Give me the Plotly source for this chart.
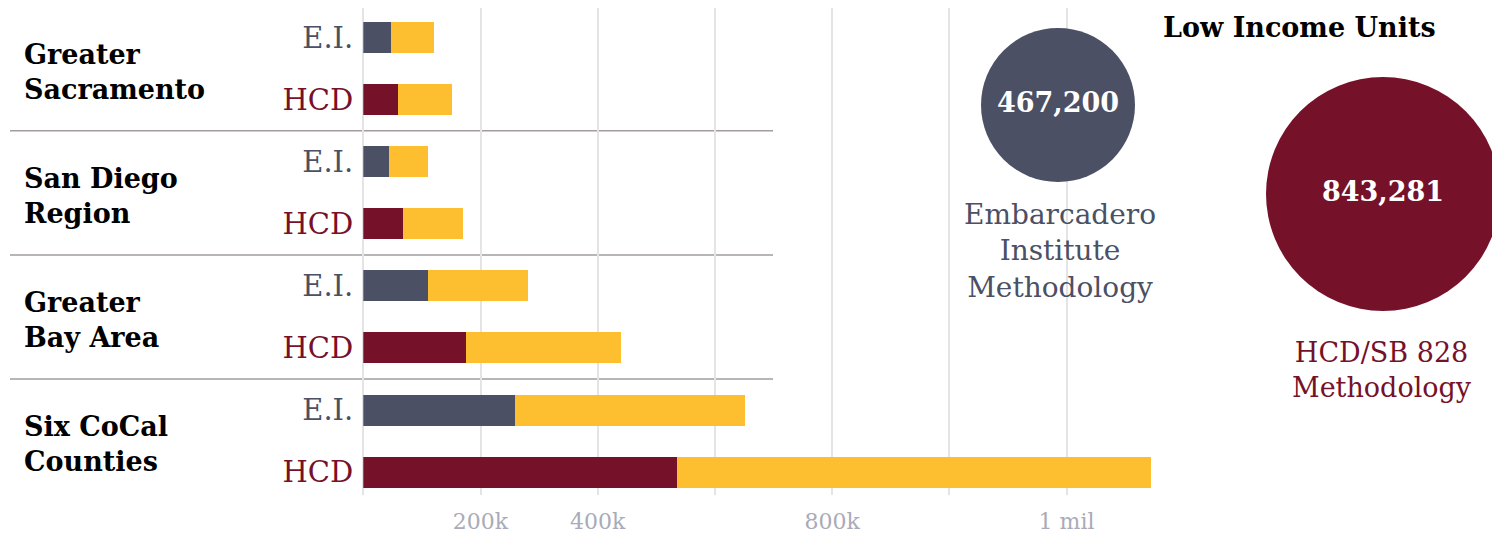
import plotly.graph_objects as go

# ---------------- data ----------------
regions = ["Greater<br>Sacramento", "San Diego<br>Region", "Greater<br>Bay Area", "Six CoCal<br>Counties"]
methods = ["E.I.", "HCD"]
# low income units (dark segment) and total units (end of yellow) per region, E.I. then HCD
ei_low = [47800, 43900, 111600, 259400]
ei_total = [121200, 110400, 282200, 651900]
hcd_low = [60400, 68300, 176500, 535800]
hcd_total = [152600, 170700, 441000, 1344000]
x_tickvals = [0, 200000, 400000, 600000, 800000, 1000000, 1200000]
x_ticktext = ["", "200k", "400k", "", "800k", "", "1 mil"]
bubble_values = [467200, 843281]
bubble_labels = ["Embarcadero<br>Institute<br>Methodology", "HCD/SB 828<br>Methodology"]
title_text = "Low Income Units"

# ---------------- styles ----------------
W, H = 1492, 534
GRAY = "#4b5064"
MAROON = "#76112a"
YELLOW = "#fdbe30"
FONT = "DejaVu Serif"

low_vals, other_vals, low_cols, ypos, ylabels = [], [], [], [], []
for i in range(len(regions)):
    for j, m in enumerate(methods):
        low = ei_low[i] if j == 0 else hcd_low[i]
        tot = ei_total[i] if j == 0 else hcd_total[i]
        low_vals.append(low)
        other_vals.append(tot - low)
        low_cols.append(GRAY if j == 0 else MAROON)
        ypos.append(2 * i + j)
        col = GRAY if j == 0 else MAROON
        ylabels.append(f'<span style="color:{col}">{m}</span>')

fig = go.Figure()
fig.add_trace(go.Bar(x=low_vals, y=ypos, orientation="h", width=0.5,
                     marker=dict(color=low_cols, line=dict(width=0)),
                     showlegend=False, hoverinfo="x"))
fig.add_trace(go.Bar(x=other_vals, y=ypos, orientation="h", width=0.5,
                     marker=dict(color=YELLOW, line=dict(width=0)),
                     showlegend=False, hoverinfo="x"))

# bubbles on a pixel-coordinate overlay
bx = [1058, 1383]
by = [105, 194]
bsize = [154, 234]
fig.add_trace(go.Scatter(x=bx, y=by, xaxis="x2", yaxis="y2", mode="markers+text",
                         marker=dict(size=bsize, color=[GRAY, MAROON], line=dict(width=0), opacity=1),
                         text=[f"{v:,}" for v in bubble_values],
                         textposition="middle center",
                         textfont=dict(family=FONT, size=27, color="white", weight="bold"),
                         cliponaxis=False, showlegend=False, hoverinfo="skip"))

x0_px, x1_px = 363.3, 1160
px_per_unit = 117.2 / 200000
y_top_px, y_bot_px = 8, 495
yr = [7.37, -0.48]

fig.update_layout(
    width=W, height=H,
    margin=dict(l=0, r=0, t=0, b=0),
    paper_bgcolor="white", plot_bgcolor="rgba(0,0,0,0)",
    barmode="stack", bargap=0,
    font=dict(family=FONT),
    xaxis=dict(domain=[x0_px / W, x1_px / W], range=[0, (x1_px - x0_px) / px_per_unit],
               tickvals=x_tickvals, ticktext=x_ticktext,
               showgrid=True, gridcolor="#e4e4e6", gridwidth=1.5,
               zeroline=True, zerolinecolor="#e4e4e6", zerolinewidth=1.5,
               showline=False, ticks="", ticklabelstandoff=11,
               tickfont=dict(family=FONT, size=22, color="#a9abb8"),
               automargin=False, fixedrange=True),
    yaxis=dict(domain=[1 - y_bot_px / H, 1 - y_top_px / H], range=yr,
               tickvals=ypos, ticktext=ylabels, showgrid=False, zeroline=False,
               showline=False, ticks="", ticklabelstandoff=9,
               tickfont=dict(family=FONT, size=29),
               automargin=False, fixedrange=True),
    xaxis2=dict(domain=[0, 1], range=[0, W], visible=False, anchor="y2", fixedrange=True),
    yaxis2=dict(domain=[0, 1], range=[H, 0], visible=False, anchor="x2", fixedrange=True),
)

# region labels and separators
for i, r in enumerate(regions):
    fig.add_annotation(text=r, xref="paper", yref="y", x=22 / W, y=2 * i + 0.5,
                       xanchor="left", yanchor="middle", yshift=-3, align="left",
                       showarrow=False, font=dict(family=FONT, size=27, color="black", weight="bold"))
for k in range(1, len(regions)):
    yv = 2 * k - 0.5
    yp = (yr[0] - yv) / (yr[0] - yr[1]) * (1 - y_top_px / H - (1 - y_bot_px / H)) + (1 - y_bot_px / H)
    fig.add_shape(type="line", xref="paper", yref="paper", x0=10 / W, x1=773 / W, y0=yp, y1=yp,
                  line=dict(color="#a39c9c", width=1.5), layer="below")

# bubble captions and title
fig.add_annotation(text=bubble_labels[0], xref="paper", yref="paper", x=1060 / W, y=1 - 251 / H,
                   xanchor="center", yanchor="middle", showarrow=False, align="center",
                   font=dict(family=FONT, size=28, color=GRAY))
fig.add_annotation(text=bubble_labels[1], xref="paper", yref="paper", x=1382 / W, y=1 - 370 / H,
                   xanchor="center", yanchor="middle", showarrow=False, align="center",
                   font=dict(family=FONT, size=27, color=MAROON))
fig.add_annotation(text=title_text, xref="paper", yref="paper", x=1299 / W, y=1 - 27 / H,
                   xanchor="center", yanchor="middle", showarrow=False,
                   font=dict(family=FONT, size=27, color="black", weight="bold"))

fig.write_html("out.html")
